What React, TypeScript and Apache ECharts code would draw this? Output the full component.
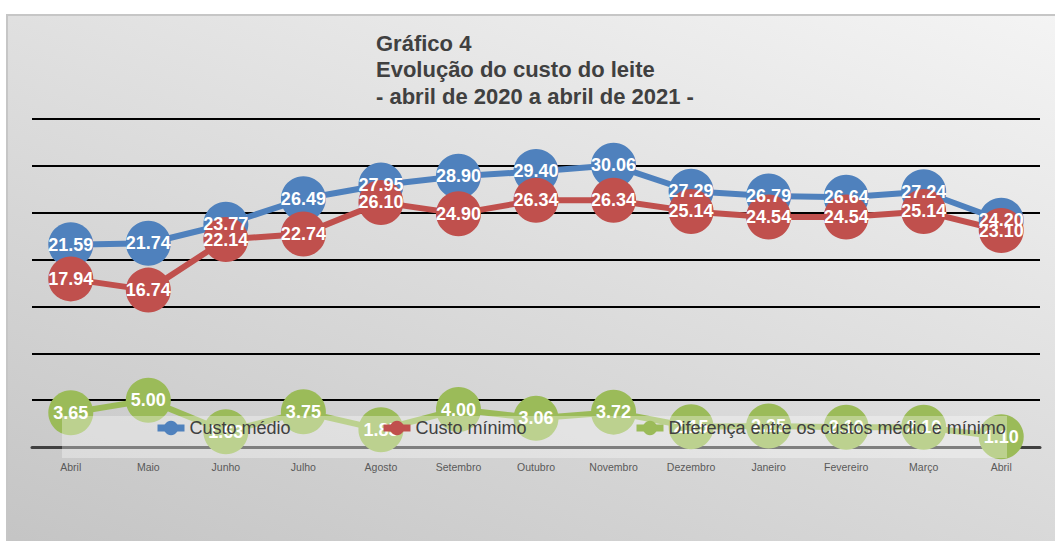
import React, { useEffect, useRef } from "react";
import * as echarts from "echarts";

const categories = ["Abril", "Maio", "Junho", "Julho", "Agosto", "Setembro", "Outubro", "Novembro", "Dezembro", "Janeiro", "Fevereiro", "Março", "Abril"];
const custoMedio = [21.59, 21.74, 23.77, 26.49, 27.95, 28.9, 29.4, 30.06, 27.29, 26.79, 26.64, 27.24, 24.2];
const custoMinimo = [17.94, 16.74, 22.14, 22.74, 26.1, 24.9, 26.34, 26.34, 25.14, 24.54, 24.54, 25.14, 23.1];
const diferenca = [3.65, 5.0, 1.63, 3.75, 1.85, 4.0, 3.06, 3.72, 2.15, 2.25, 2.1, 2.1, 1.1];
const seriesNames = ["Custo médio", "Custo mínimo", "Diferença entre os custos médio e mínimo"];
const colors = ["#4F81BD", "#C0504D", "#9BBB59"];
const titleLines = ["Gráfico 4", "Evolução do custo do leite", "- abril de 2020 a abril de 2021 -"];

const FONT = "'Liberation Sans', Arial, sans-serif";

export default function App() {
  const ref = useRef<HTMLDivElement>(null);
  useEffect(() => {
    if (!ref.current) return;
    const chart = echarts.init(ref.current, null, { renderer: "svg" });
    const mk = (name: string, data: number[], color: string) => ({
      name,
      type: "line",
      data,
      symbol: "circle",
      symbolSize: 45,
      showAllSymbol: true,
      lineStyle: { color, width: 6 },
      itemStyle: { color },
      label: {
        show: true,
        position: "inside",
        color: "#ffffff",
        fontWeight: "bold",
        fontSize: 18,
        fontFamily: FONT,
        formatter: (p: any) => Number(p.value).toFixed(2),
      },
      emphasis: { disabled: true },
    });
    const legendLefts = [149, 375, 628];
    const legends = seriesNames.map((n, i) => ({
      data: [n],
      left: legendLefts[i],
      top: 414,
      itemWidth: 27,
      itemHeight: 18,
      zlevel: 2,
      z: 5,
      lineStyle: { width: 7 },
      textStyle: { fontFamily: FONT, fontSize: 18, color: "#404040" },
    }));
    chart.setOption({
      animation: false,
      textStyle: { fontFamily: FONT },
      graphic: {
        zlevel: 1,
        z: 100,
        elements: [
          {
            type: "rect",
            silent: true,
            zlevel: 1,
            z: 100,
            shape: { x: 62, y: 416, width: 945, height: 42 },
            style: { fill: "rgba(255,255,255,0.33)" },
          },
        ],
      },
      title: {
        text: titleLines.join("\n"),
        left: 371,
        top: 25,
        textStyle: {
          fontFamily: FONT,
          fontSize: 22,
          fontWeight: "bold",
          color: "#404040",
          lineHeight: 26.5,
        },
      },
      legend: legends,
      grid: { left: 32, right: 15, top: 119, bottom: 94 },
      xAxis: {
        type: "category",
        data: categories,
        boundaryGap: true,
        axisLine: { lineStyle: { color: "#404040", width: 3 } },
        axisTick: { show: false },
        axisLabel: { fontSize: 10.5, color: "#595959", margin: 14, fontFamily: FONT },
      },
      yAxis: {
        type: "value",
        min: 0,
        max: 35,
        interval: 5,
        axisLabel: { show: false },
        axisLine: { show: false },
        axisTick: { show: false },
        splitLine: { lineStyle: { color: "#000000", width: 2 } },
      },
      series: [
        mk(seriesNames[0], custoMedio, colors[0]),
        mk(seriesNames[1], custoMinimo, colors[1]),
        mk(seriesNames[2], diferenca, colors[2]),
      ],
    });
    return () => chart.dispose();
  }, []);
  return (
    <div style={{ position: "fixed", left: 0, top: 0, width: 1055, height: 541, background: "#ffffff", overflow: "hidden" }}>
      <div
        style={{
          position: "absolute",
          left: 6,
          top: 14,
          width: 1060,
          height: 540,
          borderLeft: "2px solid #c6c6c6",
          borderTop: "2px solid #c6c6c6",
          background: "linear-gradient(200deg, #f4f4f4 0%, #c4c4c4 100%)",
        }}
      />
      <div ref={ref} style={{ position: "absolute", left: 0, top: 0, width: 1055, height: 541 }} />
    </div>
  );
}
